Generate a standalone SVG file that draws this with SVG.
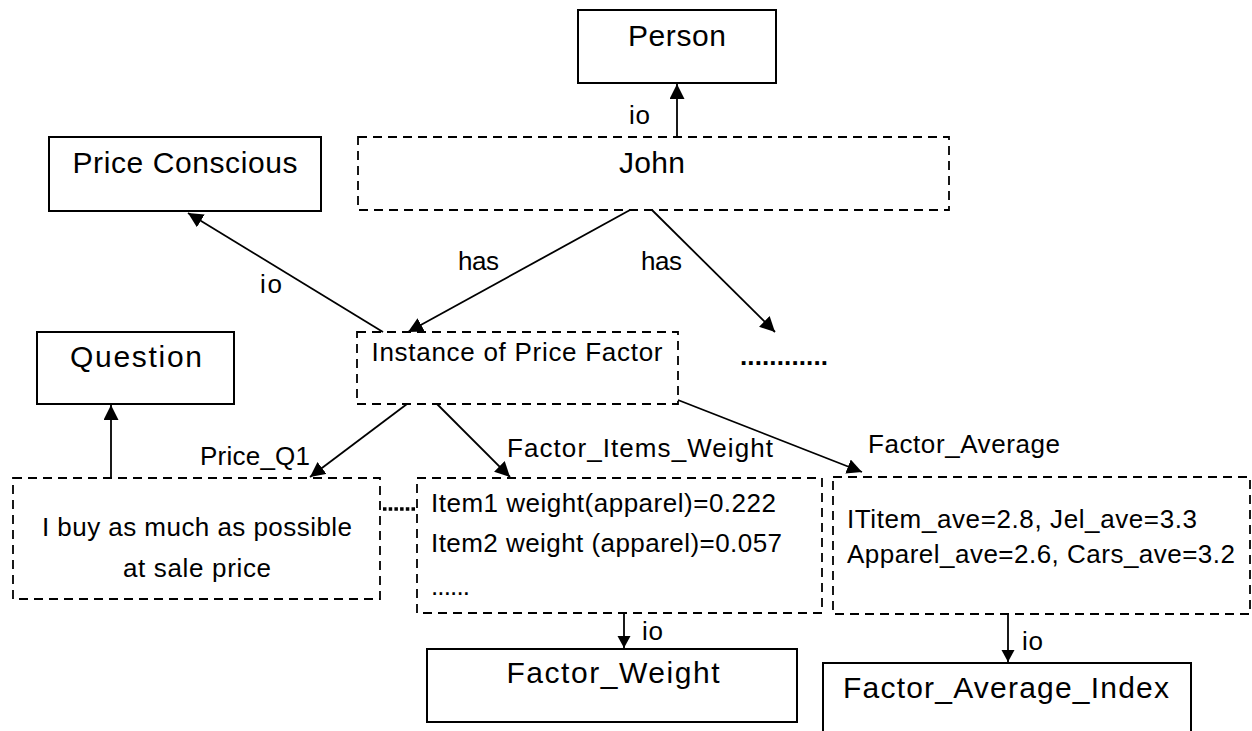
<svg xmlns="http://www.w3.org/2000/svg" width="1252" height="731" viewBox="0 0 1252 731">
<style>
  .solid { fill: #fff; stroke: #000; stroke-width: 2; }
  .dash { fill: #fff; stroke: #000; stroke-width: 1.8; stroke-dasharray: 9 6; }
  .big { font-family: "Liberation Sans", Arial, sans-serif; font-size: 30px; fill: #000; }
  .med { font-family: "Liberation Sans", Arial, sans-serif; font-size: 26px; fill: #000; }
  .conn line { stroke: #000; stroke-width: 1.8; fill: none; }
  .arr { marker-end: url(#ah); }
  .arrs { marker-end: url(#ahs); }
  .dots { font-family: "Liberation Sans", Arial, sans-serif; font-size: 26px; font-weight: bold; fill: #000; }
</style>
<defs>
  <marker id="ah" markerUnits="userSpaceOnUse" markerWidth="16" markerHeight="16" refX="15" refY="7.5" orient="auto">
    <path d="M0,0 L15,7.5 L0,15 z" fill="#000"/>
  </marker>
  <marker id="ahs" markerUnits="userSpaceOnUse" markerWidth="14" markerHeight="14" refX="12" refY="6.5" orient="auto">
    <path d="M0,0 L12,6.5 L0,13 z" fill="#000"/>
  </marker>
</defs>
<rect width="1252" height="731" fill="#fff"/>

<g id="person">
  <rect class="solid" x="578" y="10" width="198" height="73"/>
  <text class="big" x="677" y="46" text-anchor="middle" textLength="98">Person</text>
</g>
<g id="john">
  <rect class="dash" x="358" y="137" width="591" height="73"/>
  <text class="big" x="652" y="173" text-anchor="middle" textLength="66">John</text>
</g>
<g id="price-conscious">
  <rect class="solid" x="49" y="137" width="272" height="74"/>
  <text class="big" x="185" y="173" text-anchor="middle" textLength="225">Price Conscious</text>
</g>
<g id="question">
  <rect class="solid" x="37" y="332" width="197" height="72"/>
  <text class="big" x="136" y="367" text-anchor="middle" textLength="132">Question</text>
</g>
<g id="instance">
  <rect class="dash" x="357" y="332" width="321" height="72"/>
  <text class="med" x="517" y="361" text-anchor="middle" textLength="291">Instance of Price Factor</text>
</g>
<g id="more">
  <text class="dots" x="740" y="365" textLength="88">............</text>
</g>
<g id="price-q1">
  <rect class="dash" x="13" y="478" width="367" height="121"/>
  <text class="med" x="197" y="536" text-anchor="middle" textLength="310">I buy as much as possible</text>
  <text class="med" x="197" y="577" text-anchor="middle" textLength="148">at sale price</text>
</g>
<g id="items-weight">
  <rect class="dash" x="417" y="478" width="405" height="135"/>
  <text class="med" x="431" y="512" textLength="345">Item1 weight(apparel)=0.222</text>
  <text class="med" x="431" y="552" textLength="351">Item2 weight (apparel)=0.057</text>
  <text class="med" x="431" y="595" textLength="39">......</text>
</g>
<g id="factor-average">
  <rect class="dash" x="833" y="477" width="417" height="137"/>
  <text class="med" x="847" y="528" textLength="350">ITitem_ave=2.8, Jel_ave=3.3</text>
  <text class="med" x="847" y="563" textLength="388">Apparel_ave=2.6, Cars_ave=3.2</text>
</g>
<g id="factor-weight">
  <rect class="solid" x="427" y="649" width="370" height="73"/>
  <text class="big" x="613" y="683" text-anchor="middle" textLength="213">Factor_Weight</text>
</g>
<g id="factor-average-index">
  <rect class="solid" x="823" y="663" width="368" height="90"/>
  <text class="big" x="1006" y="698" text-anchor="middle" textLength="326">Factor_Average_Index</text>
</g>

<g id="connectors" class="conn">
  <line class="arr" x1="677" y1="137" x2="677" y2="84"/>
  <line class="arr" x1="383" y1="332" x2="188" y2="213"/>
  <line class="arr" x1="630" y1="210" x2="408" y2="332"/>
  <line class="arr" x1="652" y1="210" x2="775" y2="332"/>
  <line class="arr" x1="407" y1="404" x2="310" y2="477"/>
  <line class="arr" x1="437" y1="404" x2="510" y2="477"/>
  <line class="arr" x1="678" y1="400" x2="862" y2="472"/>
  <line class="arr" x1="111" y1="478" x2="111" y2="405"/>
  <line class="arrs" x1="624" y1="613" x2="624" y2="648"/>
  <line class="arrs" x1="1008" y1="614" x2="1008" y2="662"/>
  <line x1="383" y1="509" x2="416" y2="509" style="stroke-width:3.5;stroke-dasharray:3.5 2.2"/>
  <text class="med" x="629" y="124" textLength="21">io</text>
  <text class="med" x="260" y="293" textLength="22">io</text>
  <text class="med" x="458" y="270" textLength="41">has</text>
  <text class="med" x="641" y="270" textLength="41">has</text>
  <text class="med" x="200" y="465" textLength="110">Price_Q1</text>
  <text class="med" x="507" y="457" textLength="266">Factor_Items_Weight</text>
  <text class="med" x="868" y="453" textLength="192">Factor_Average</text>
  <text class="med" x="642" y="640" textLength="21">io</text>
  <text class="med" x="1022" y="650" textLength="21">io</text>
</g>
</svg>
